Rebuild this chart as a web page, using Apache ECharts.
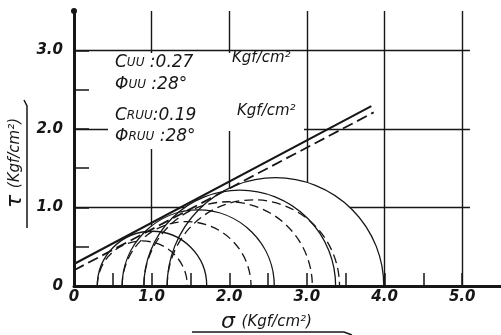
<!DOCTYPE html>
<html>
<head>
<meta charset="utf-8">
<script src="https://cdn.jsdelivr.net/npm/echarts@6/dist/echarts.min.js"></script>
<style>
  html, body { margin: 0; padding: 0; background: #fff; }
  #chart { width: 501px; height: 335px; }
</style>
</head>
<body>
<div id="chart"></div>
<script>
// Mohr circles: UU (solid) and RUU (dashed), same confining pressures
const sigma3 = [0.30, 0.62, 0.90, 1.20]
const sigma1UU = [1.71, 2.58, 3.37, 3.99]
const sigma1RUU = [1.46, 2.28, 3.07, 3.42]

// failure envelopes, end points
const envUUSigma = [0, 3.83]
const envUUTau = [0.28, 2.29]
const envRUUSigma = [0, 3.86]
const envRUUTau = [0.20, 2.21]

// axes
const xLabels = [0, 1, 2, 3, 4, 5]
const yLabels = [0, 1, 2, 3]
const xTicks = [0.5, 1, 1.5, 2, 2.5, 3, 3.5, 4, 4.5, 5]
const yTicks = [0.5, 1, 1.5, 2, 2.5, 3]
const gridX = [1, 2, 3, 4, 5]
const gridY = [1, 2, 3]
const gridTop = 3.5
const gridRight = 5.1

const ink = '#161616'
const font = '"DejaVu Sans", sans-serif'

const labelFmt = (v) => (v === 0 ? '0' : v.toFixed(1))

const labelStyle = {
  color: ink,
  fontSize: 15,
  fontStyle: 'italic',
  fontWeight: 'bold',
  fontFamily: font,
  formatter: labelFmt,
}

// half circle above the σ axis, drawn through the axis scales
const halfCircle = (dash, fill) => (params, api) => {
  const s3 = api.value(0)
  const s1 = api.value(1)
  const c = api.coord([(s3 + s1) / 2, 0])
  const r = api.size([(s1 - s3) / 2, 0])[0]
  const shape = { cx: c[0], cy: c[1], r, startAngle: Math.PI, endAngle: Math.PI * 2, clockwise: true }
  if (fill) {
    return { type: 'sector', shape: { ...shape, r0: 0 }, style: { fill: '#fff', stroke: 'none' } }
  }
  return { type: 'arc', shape, style: { stroke: ink, fill: 'none', lineWidth: 1.3, lineDash: dash } }
}

const uuData = sigma3.map((s, i) => [s, sigma1UU[i], 0])
const ruuData = sigma3.map((s, i) => [s, sigma1RUU[i], 0])

const textMain = { fontSize: 17, fontStyle: 'italic', fontFamily: font, fill: ink }
const textSub = { fontSize: 12, fontStyle: 'italic', fontFamily: font, fill: ink }
const textUnit = { fontSize: 15, fontStyle: 'italic', fontFamily: font, fill: ink }

const note = (x, y, text) => ({
  type: 'text',
  z: 51,
  x,
  y,
  style: { text, verticalAlign: 'middle', rich: { m: textMain, s: textSub, u: textUnit } },
})

const chart = echarts.init(document.getElementById('chart'))

chart.setOption({
  animation: false,
  grid: { left: 74, top: 11, width: 429, height: 275 },
  xAxis: {
    type: 'value',
    min: 0,
    max: 5.5,
    interval: 0.5,
    z: 10,
    axisLine: { show: true, onZero: false, lineStyle: { color: ink, width: 3 } },
    axisTick: { show: true, inside: true, length: 13, customValues: xTicks, lineStyle: { color: ink, width: 1.5 } },
    axisLabel: { ...labelStyle, customValues: xLabels, margin: 4 },
    splitLine: { show: false },
  },
  yAxis: {
    type: 'value',
    min: 0,
    max: 3.5,
    interval: 0.5,
    z: 10,
    axisLine: {
      show: true,
      onZero: false,
      symbol: ['none', 'circle'],
      symbolSize: [6, 6],
      lineStyle: { color: ink, width: 3 },
    },
    axisTick: { show: true, inside: true, length: 15, customValues: yTicks, lineStyle: { color: ink, width: 1.5 } },
    axisLabel: { ...labelStyle, customValues: yLabels, margin: 11 },
    splitLine: { show: false },
  },
  series: [
    {
      // grid lines
      type: 'line',
      data: [],
      z: 1,
      silent: true,
      markLine: {
        z: 1,
        silent: true,
        animation: false,
        symbol: ['none', 'none'],
        label: { show: false },
        emphasis: { disabled: true },
        lineStyle: { color: ink, width: 1.4, type: 'solid' },
        data: [
          ...gridX.map((x) => [{ coord: [x, 0] }, { coord: [x, gridTop] }]),
          ...gridY.map((y) => [{ coord: [0, y] }, { coord: [gridRight, y] }]),
        ],
      },
    },
    {
      type: 'custom',
      z: 3,
      silent: true,
      encode: { x: [0, 1], y: 2 },
      data: uuData.concat(ruuData),
      renderItem: halfCircle(null, true),
    },
    {
      type: 'custom',
      z: 4,
      silent: true,
      encode: { x: [0, 1], y: 2 },
      data: uuData,
      renderItem: halfCircle(null, false),
    },
    {
      type: 'custom',
      z: 4,
      silent: true,
      encode: { x: [0, 1], y: 2 },
      data: ruuData,
      renderItem: halfCircle([9, 5], false),
    },
    {
      type: 'line',
      z: 5,
      silent: true,
      symbol: 'none',
      data: envUUSigma.map((s, i) => [s, envUUTau[i]]),
      lineStyle: { color: ink, width: 2 },
    },
    {
      type: 'line',
      z: 5,
      silent: true,
      symbol: 'none',
      data: envRUUSigma.map((s, i) => [s, envRUUTau[i]]),
      lineStyle: { color: ink, width: 1.8, type: [11, 5] },
    },
  ],
  graphic: [
    // blank patches where the lettering breaks the grid
    { type: 'rect', z: 50, shape: { x: 108, y: 53, width: 196, height: 78 }, style: { fill: '#fff' } },
    { type: 'rect', z: 50, shape: { x: 108, y: 131, width: 108, height: 18 }, style: { fill: '#fff' } },
    note(115, 63, '{m|C}{s|UU}{m| :0.27}'),
    note(232, 58, '{u|Kgf/cm²}'),
    note(115, 85, '{m|Φ}{s|UU}{m| :28°}'),
    note(115, 116, '{m|C}{s|RUU}{m|:0.19}'),
    note(237, 111, '{u|Kgf/cm²}'),
    note(115, 137, '{m|Φ}{s|RUU}{m| :28°}'),
    // axis titles
    {
      type: 'text',
      z: 51,
      x: 15,
      y: 163,
      rotation: Math.PI / 2,
      style: {
        text: '{t|τ}  {u|(Kgf/cm²)}',
        align: 'center',
        verticalAlign: 'middle',
        rich: { t: { ...textMain, fontSize: 22 }, u: { ...textUnit, fontSize: 15 } },
      },
    },
    {
      type: 'polyline',
      z: 51,
      shape: { points: [[27, 228], [27, 106], [24, 100]] },
      style: { stroke: ink, lineWidth: 1.5, fill: 'none' },
    },
    {
      type: 'text',
      z: 51,
      x: 221,
      y: 322,
      style: {
        text: '{t|σ}  {u|(Kgf/cm²)}',
        verticalAlign: 'middle',
        rich: { t: { ...textMain, fontSize: 22 }, u: { ...textUnit, fontSize: 15 } },
      },
    },
    {
      type: 'polyline',
      z: 51,
      shape: { points: [[192, 332], [344, 332], [352, 335]] },
      style: { stroke: ink, lineWidth: 1.5, fill: 'none' },
    },
  ],
})
</script>
</body>
</html>
